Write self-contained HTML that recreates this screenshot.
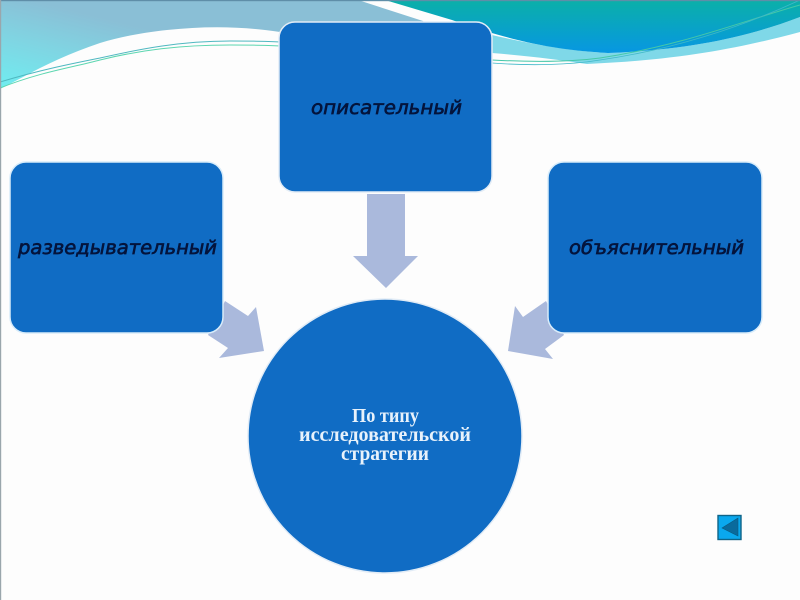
<!DOCTYPE html>
<html><head><meta charset="utf-8"><style>
html,body{margin:0;padding:0;background:#fdfdfd}
svg{display:block;filter:blur(.35px)}
.t{font-family:"DejaVu Sans",sans-serif;font-style:italic;font-size:19px;font-weight:400;fill:#04143c;stroke:#04143c;stroke-width:.65px}
.c{font-family:"Liberation Serif",serif;font-weight:700;font-size:20px;fill:#e8f2fb}
</style></head><body>
<svg width="800" height="600" viewBox="0 0 800 600" xmlns="http://www.w3.org/2000/svg">
<defs>
<linearGradient id="a" gradientUnits="userSpaceOnUse" x1="8" y1="88" x2="30" y2="0"><stop offset="0" stop-color="#70ecf0"/><stop offset=".55" stop-color="#80d4e2"/><stop offset="1" stop-color="#8abfd6"/></linearGradient>
<linearGradient id="b" x1="0" y1="0" x2="0" y2="1"><stop offset="0" stop-color="#0bb0a8"/><stop offset="1" stop-color="#0797e2"/></linearGradient>
</defs>
<rect width="800" height="600" fill="#fdfdfd"/>
<path d="M0 0H358L423 21L430 32H280C240 26 205 26 167 30C140 33 120 37 100 43C70 53 45 65 23 77L0 89Z" fill="url(#a)"/>
<path d="M492 35C540 46 575 51 608 53C680 50 740 40 800 17V32C740 48 680 60 587 64C560 60 530 56 492 53Z" fill="#7fd8e8"/>
<path d="M385 0H800V17C740 40 680 50 608 53C560 50 520 44 452 20Z" fill="url(#b)"/>
<path d="M0 82C40 70 70 64 100 58C140 49 180 41 230 41C250 41 265 41 280 42" fill="none" stroke="#4fb8c0" stroke-width="1"/>
<path d="M0 88C40 72 70 68 100 60C140 50 180 45 230 45C250 45 265 45 280 46" fill="none" stroke="#5cd6b0" stroke-width="1"/>
<path d="M492 60C530 62 570 62 600 58C680 46 740 22 800 5" fill="none" stroke="#45c8a8" stroke-width="1"/>
<path d="M492 63C530 66 570 65 600 60C670 50 740 28 800 0" fill="none" stroke="#3fb8c8" stroke-width=".8"/>
<rect x="0" y="0" width="800" height="1.2" fill="#5f8ea8"/>
<rect x="0" y="0" width="1.2" height="600" fill="#9aa6ac"/>

<polygon points="367,194 405,194 405,256 418,256 386,288 353,256 367,256" fill="#aab9dc"/>
<polygon points="225,301 248,316 256,307 264,351 219,358 228,348 208,335" fill="#aab9dc"/>
<polygon points="546,301 523,317 515,306 508,351 553,359 545,349 564,335" fill="#aab9dc"/>

<rect x="279" y="22" width="213" height="170" rx="16" fill="#106cc4" stroke="#e2ecf6" stroke-width="1.5"/>
<rect x="10" y="162" width="213" height="171" rx="16" fill="#106cc4" stroke="#d8ecfa" stroke-width="1.5"/>
<rect x="548" y="162" width="214" height="171" rx="16" fill="#106cc4" stroke="#d8ecfa" stroke-width="1.5"/>
<circle cx="385" cy="436" r="137" fill="#106cc4" stroke="#e2ecf6" stroke-width="1.5"/>

<text class="t" x="311" y="114" textLength="151" lengthAdjust="spacingAndGlyphs">описательный</text>
<text class="t" x="18" y="254" textLength="199" lengthAdjust="spacingAndGlyphs">разведывательный</text>
<text class="t" x="569" y="254" textLength="175" lengthAdjust="spacingAndGlyphs">объяснительный</text>
<text class="c" x="352" y="422" textLength="67" lengthAdjust="spacingAndGlyphs">По типу</text>
<text class="c" x="299" y="441" textLength="172" lengthAdjust="spacingAndGlyphs">исследовательской</text>
<text class="c" x="341" y="460" textLength="88" lengthAdjust="spacingAndGlyphs">стратегии</text>

<rect x="718" y="515.5" width="23" height="24" fill="#0aa8ee" stroke="#0f6488" stroke-width="1.4"/>
<polygon points="738,518 722,528 738,536" fill="#0a6a9c" stroke="#0a5a80" stroke-width=".6"/>
</svg>
</body></html>
